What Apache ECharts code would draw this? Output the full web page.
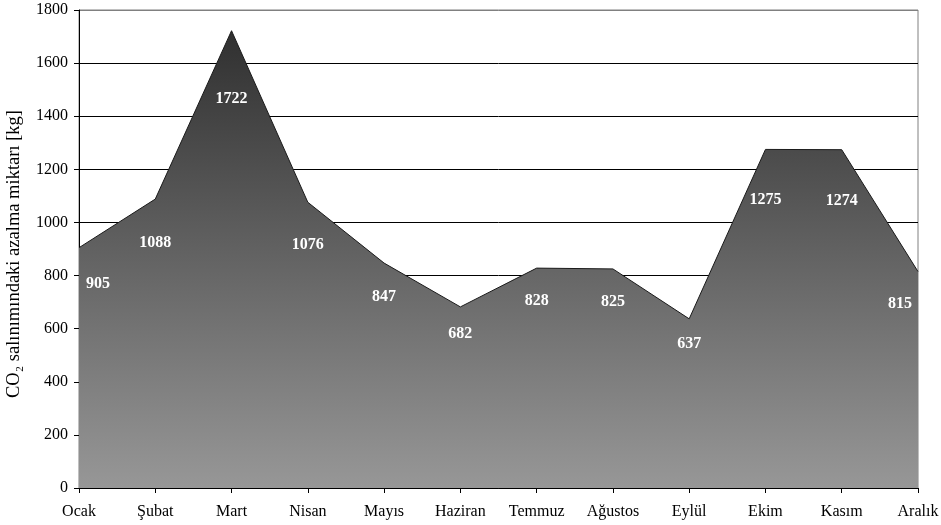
<!DOCTYPE html>
<html><head><meta charset="utf-8">
<script src="https://cdn.jsdelivr.net/npm/echarts@6/dist/echarts.min.js"></script>
<style>html,body{margin:0;padding:0;background:#fff}#c{width:941px;height:525px}</style>
</head><body><div id="c"></div>
<script>
const months = ['Ocak','Şubat','Mart','Nisan','Mayıs','Haziran','Temmuz','Ağustos','Eylül','Ekim','Kasım','Aralık'];
const values = [905,1088,1722,1076,847,682,828,825,637,1275,1274,815];
const yTicks = {min:0, max:1800, interval:200};

const font = '"Liberation Serif","Times New Roman",serif';
const chart = echarts.init(document.getElementById('c'));
const gridColors = ['#000','#000','#000','#000','#000','#000','#000','#000','#000','#808080'];

let offs = values.map(()=>0);
function layout(p){
  const i = p.dataIndex;
  let dx = 0;
  if (i===0) dx = 19;
  if (i===values.length-1) dx = -18;
  return {dx:dx, dy:offs[i]};
}

const option = {
  animation:false,
  grid:{left:79, right:23, top:10, bottom:37, show:true, borderColor:'#808080', borderWidth:1, backgroundColor:'transparent', outerBoundsMode:'none', containLabel:false},
  xAxis:{
    type:'category', data:months, boundaryGap:false,
    axisLine:{lineStyle:{color:'#000', width:1}},
    axisTick:{show:true, length:5, inside:false, lineStyle:{color:'#000'}},
    axisLabel:{color:'#000', fontFamily:font, fontSize:16, margin:16, interval:0},
    splitLine:{show:false}
  },
  yAxis:{
    type:'value', min:yTicks.min, max:yTicks.max, interval:yTicks.interval,
    name:'CO₂ salınımındaki azalma miktarı [kg]', nameLocation:'middle', nameGap:55,
    nameTextStyle:{color:'#000', fontFamily:font, fontSize:18.5, padding:[0,10,0,0]},
    axisLine:{show:true, lineStyle:{color:'#000', width:1}},
    axisTick:{show:true, length:5, lineStyle:{color:'#000'}},
    axisLabel:{color:'#000', fontFamily:font, fontSize:16, margin:11, formatter:v=>String(v)},
    splitLine:{show:true, lineStyle:{color:gridColors, width:1}}
  },
  series:[{
    type:'line', data:values, symbol:'circle', symbolSize:1, showSymbol:true,
    itemStyle:{color:'rgba(0,0,0,0)', borderWidth:0},
    lineStyle:{color:'#1a1a1a', width:1},
    areaStyle:{opacity:1, color:new echarts.graphic.LinearGradient(0,0,0,1,[
      {offset:0, color:'#303030'},{offset:1, color:'#979797'}])},
    label:{show:true, position:'inside', color:'#fff', fontFamily:font, fontSize:16, fontWeight:'bold', formatter:p=>String(p.value)},
    labelLayout:layout,
    z:1
  }]
};
chart.setOption(option);
offs = values.map(v => chart.convertToPixel({yAxisIndex:0}, v*0.85) - chart.convertToPixel({yAxisIndex:0}, v));
chart.setOption(option, true);
</script></body></html>
